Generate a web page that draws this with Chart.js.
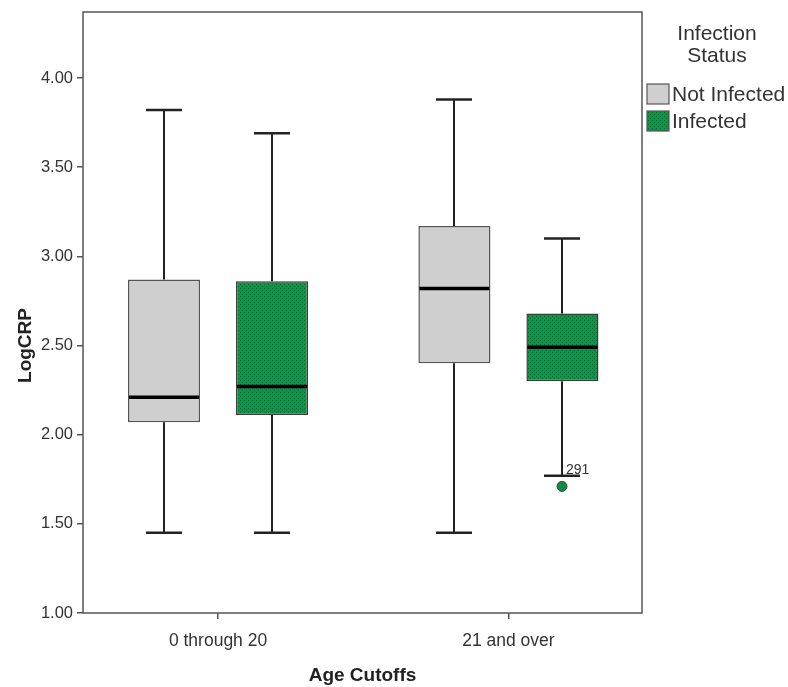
<!DOCTYPE html>
<html>
<head>
<meta charset="utf-8">
<title>LogCRP by Age Cutoffs</title>
<script src="https://cdn.jsdelivr.net/npm/chart.js@4.4.1/dist/chart.umd.min.js"></script>
<style>
  html, body { margin: 0; padding: 0; background: #fff; }
  #wrap { width: 788px; height: 687px; }
</style>
</head>
<body>
<div id="wrap"><canvas id="boxChart" width="788" height="687"></canvas></div>
<script>
// ── data ─────────────────────────────────────
const categories = ["0 through 20", "21 and over"];
const seriesNames = ["Not Infected", "Infected"];
const legendTitle = ["Infection", "Status"];
const yTickValues = [1.0, 1.5, 2.0, 2.5, 3.0, 3.5, 4.0];

// Not Infected
const notInfMin = [1.45, 1.45];
const notInfQ1 = [2.07, 2.40];
const notInfMedian = [2.21, 2.82];
const notInfQ3 = [2.87, 3.17];
const notInfMax = [3.82, 3.88];

// Infected
const infMin = [1.45, 1.77];
const infQ1 = [2.11, 2.30];
const infMedian = [2.27, 2.49];
const infQ3 = [2.86, 2.68];
const infMax = [3.69, 3.10];
const infOutliers = [[], [1.71]];
const infOutlierIds = [[], ["291"]];

// axis ranges as read from the frame
const X_MIN = -0.465;
const X_MAX = 1.46;
const Y_MIN = 1.0;
const Y_MAX = 4.0;
const FRAME_TOP = 4.37;

const FONT = "'Liberation Sans', Arial, sans-serif";
const TEXT = "#333";
const LINE = "#555";

// dotted green fill like the SPSS pattern
function dotPattern(base, dot) {
  const c = document.createElement("canvas");
  c.width = 4;
  c.height = 4;
  const g = c.getContext("2d");
  g.fillStyle = base;
  g.fillRect(0, 0, 4, 4);
  g.fillStyle = dot;
  g.fillRect(0, 0, 1, 1);
  g.fillRect(2, 2, 1, 1);
  return g.createPattern(c, "repeat");
}
const GREY = "#cfcfcf";
const GREEN = dotPattern("#15904a", "#0b6a32");

const stats = [
  { min: notInfMin, q1: notInfQ1, med: notInfMedian, q3: notInfQ3, max: notInfMax, out: [[], []], ids: [[], []] },
  { min: infMin, q1: infQ1, med: infMedian, q3: infQ3, max: infMax, out: infOutliers, ids: infOutlierIds },
];

const toBoxes = (q1, q3) => categories.map((_, i) => ({ x: i, y: [q1[i], q3[i]] }));

// ── box plot drawing (whiskers, medians, outliers, frame, legend) ──
function hLine(ctx, x1, x2, y) {
  ctx.beginPath();
  ctx.moveTo(x1, y);
  ctx.lineTo(x2, y);
  ctx.stroke();
}
function vLine(ctx, x, y1, y2) {
  ctx.beginPath();
  ctx.moveTo(x, y1);
  ctx.lineTo(x, y2);
  ctx.stroke();
}

const boxPlotPlugin = {
  id: "boxPlot",
  beforeDatasetsDraw(chart) {
    const { ctx } = chart;
    const y = chart.scales.y;
    ctx.save();
    ctx.strokeStyle = "#222";
    stats.forEach((s, di) => {
      chart.getDatasetMeta(di).data.forEach((bar, i) => {
        const cx = Math.round(bar.x);
        const half = bar.width / 4;
        ctx.lineWidth = 2;
        vLine(ctx, cx, y.getPixelForValue(s.max[i]), y.getPixelForValue(s.q3[i]));
        vLine(ctx, cx, y.getPixelForValue(s.min[i]), y.getPixelForValue(s.q1[i]));
        ctx.lineWidth = 2.5;
        hLine(ctx, cx - half, cx + half, y.getPixelForValue(s.max[i]));
        hLine(ctx, cx - half, cx + half, y.getPixelForValue(s.min[i]));
      });
    });
    ctx.restore();
  },
  afterDatasetsDraw(chart) {
    const { ctx } = chart;
    const y = chart.scales.y;
    ctx.save();
    stats.forEach((s, di) => {
      chart.getDatasetMeta(di).data.forEach((bar, i) => {
        const cx = Math.round(bar.x);
        ctx.strokeStyle = "#000";
        ctx.lineWidth = 3.5;
        hLine(ctx, bar.x - bar.width / 2 + 1, bar.x + bar.width / 2 - 1, y.getPixelForValue(s.med[i]));
        s.out[i].forEach((v, k) => {
          const py = y.getPixelForValue(v);
          ctx.beginPath();
          ctx.arc(cx, py, 5, 0, Math.PI * 2);
          ctx.fillStyle = "#138a44";
          ctx.fill();
          ctx.lineWidth = 1;
          ctx.strokeStyle = "#2d4a36";
          ctx.stroke();
          ctx.fillStyle = TEXT;
          ctx.font = "14px " + FONT;
          ctx.textAlign = "left";
          ctx.textBaseline = "middle";
          ctx.fillText(s.ids[i][k], cx + 4, py - 16);
        });
      });
    });
    ctx.restore();
  },
  afterDraw(chart) {
    const { ctx, chartArea } = chart;
    const y = chart.scales.y;
    ctx.save();
    // frame round the plot
    const top = y.getPixelForValue(FRAME_TOP);
    ctx.strokeStyle = LINE;
    ctx.lineWidth = 1.5;
    ctx.strokeRect(chartArea.left, top, chartArea.right - chartArea.left, chartArea.bottom - top);

    // legend
    const lx = chartArea.right + 5;
    ctx.fillStyle = TEXT;
    ctx.font = "21px " + FONT;
    ctx.textAlign = "center";
    ctx.textBaseline = "middle";
    legendTitle.forEach((t, i) => ctx.fillText(t, 717, 34 + i * 22));
    chart.data.datasets.forEach((ds, i) => {
      const cy = 94 + i * 27;
      ctx.fillStyle = ds.backgroundColor;
      ctx.fillRect(lx, cy - 10, 22, 20);
      ctx.strokeStyle = LINE;
      ctx.lineWidth = 1.2;
      ctx.strokeRect(lx, cy - 10, 22, 20);
      ctx.fillStyle = TEXT;
      ctx.textAlign = "left";
      ctx.fillText(ds.label, lx + 25, cy + 1);
    });
    ctx.restore();
  },
};

// ── chart ────────────────────────────────────
new Chart(document.getElementById("boxChart"), {
  type: "bar",
  data: {
    datasets: [
      {
        label: seriesNames[0],
        data: toBoxes(notInfQ1, notInfQ3),
        backgroundColor: GREY,
        borderColor: LINE,
        borderWidth: 1.5,
        borderSkipped: false,
      },
      {
        label: seriesNames[1],
        data: toBoxes(infQ1, infQ3),
        backgroundColor: GREEN,
        borderColor: "#3c3c3c",
        borderWidth: 1.5,
        borderSkipped: false,
      },
    ],
  },
  options: {
    responsive: false,
    devicePixelRatio: 1,
    animation: false,
    categoryPercentage: 0.744,
    barPercentage: 0.667,
    layout: { padding: { top: 78, right: 146, left: 0, bottom: 0 } },
    plugins: { legend: { display: false }, tooltip: { enabled: false } },
    scales: {
      x: {
        type: "linear",
        offset: false,
        min: X_MIN,
        max: X_MAX,
        afterBuildTicks: (scale) => {
          scale.ticks = categories.map((_, i) => ({ value: i }));
        },
        afterFit: (scale) => {
          scale.height = 74;
        },
        ticks: {
          callback: (v) => categories[v],
          color: TEXT,
          font: { family: FONT, size: 17.5 },
          padding: 12,
          maxRotation: 0,
          autoSkip: false,
        },
        grid: { offset: false, drawOnChartArea: false, tickLength: 6, color: LINE, lineWidth: 1.5 },
        border: { display: false },
        title: {
          display: true,
          text: "Age Cutoffs",
          color: "#222",
          font: { family: FONT, size: 19, weight: "bold" },
          padding: { top: 0, bottom: 0 },
        },
      },
      y: {
        min: Y_MIN,
        max: Y_MAX,
        afterBuildTicks: (scale) => {
          scale.ticks = yTickValues.map((v) => ({ value: v }));
        },
        afterFit: (scale) => {
          scale.width = 83;
        },
        ticks: {
          callback: (v) => v.toFixed(2),
          color: TEXT,
          font: { family: FONT, size: 16.5 },
          padding: 4,
        },
        grid: { drawOnChartArea: false, tickLength: 6, color: LINE, lineWidth: 1.5 },
        border: { display: false },
        title: {
          display: true,
          text: "LogCRP",
          color: "#222",
          font: { family: FONT, size: 19, weight: "bold" },
          padding: { top: 14, bottom: 0 },
        },
      },
    },
  },
  plugins: [boxPlotPlugin],
});
</script>
</body>
</html>
